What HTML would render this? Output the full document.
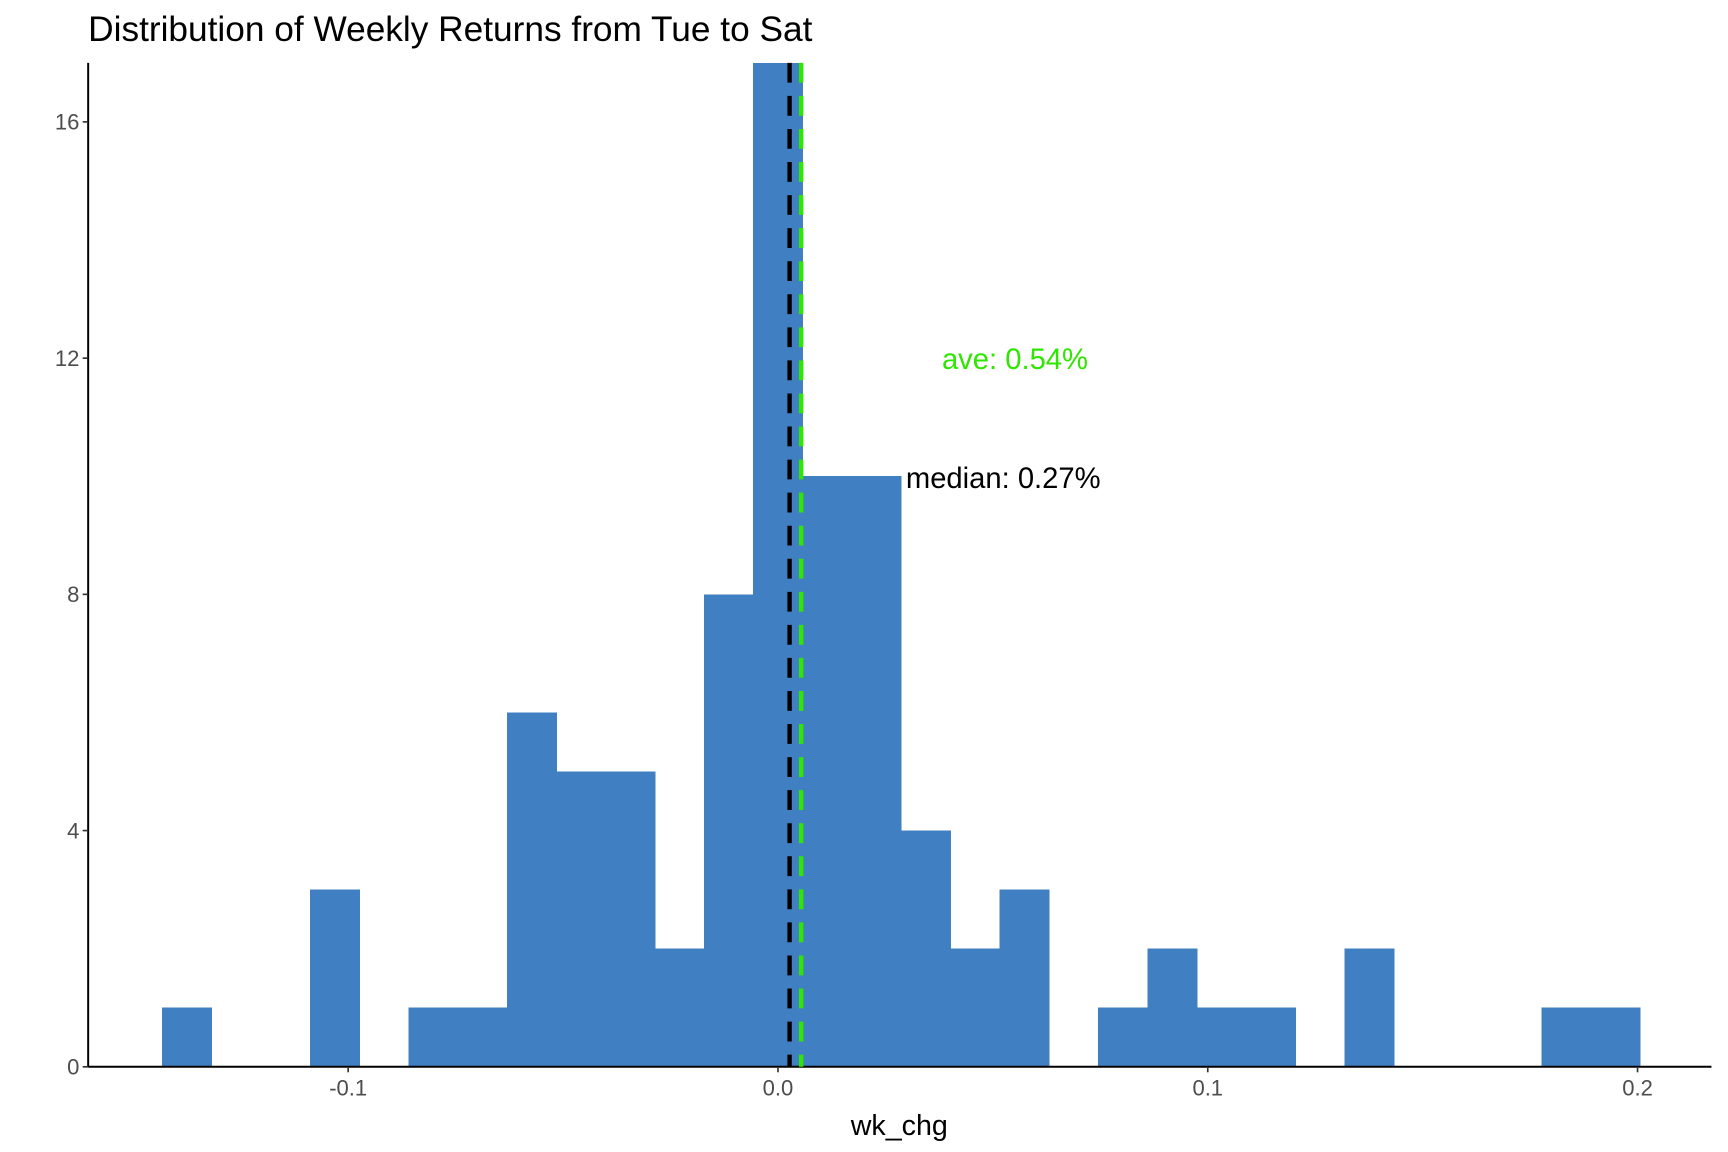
<!DOCTYPE html>
<html><head><meta charset="utf-8"><style>html,body{margin:0;padding:0;background:#fff}svg{display:block}text{font-family:"Liberation Sans",Arial,sans-serif}</style></head>
<body>
<svg id="chart" width="1728" height="1152" viewBox="0 0 1568 1045.3" xmlns="http://www.w3.org/2000/svg">
<rect width="1568" height="1045.3" fill="#fff"/>
<text x="80" y="37" font-size="32" fill="#000">Distribution of Weekly Returns from Tue to Sat</text>
<g id="bars" shape-rendering="crispEdges"></g>
<g id="axes"></g>
<text x="816" y="1030" font-size="26" text-anchor="middle" fill="#000">wk_chg</text>
</svg>
<script>
const binStart = -0.1433;
const binWidth = 0.011462;
const counts = [1,0,0,3,0,1,1,6,5,5,2,8,17,10,10,4,2,3,0,1,2,1,1,0,2,0,0,0,1,1];
const xTicks = [-0.1, 0.0, 0.1, 0.2];
const xTickLabels = ["-0.1","0.0","0.1","0.2"];
const yTicks = [0, 4, 8, 12, 16];
const medianVal = 0.0027;
const aveVal = 0.0054;
const medianLabel = "median: 0.27%";
const aveLabel = "ave: 0.54%";

const X0 = 80, X1 = 1553, Y0 = 968, Y1 = 57;
const xMin = -0.1605, xMax = 0.2172, yMin = 0, yMax = 17.0;
const xs = v => X0 + (v - xMin) / (xMax - xMin) * (X1 - X0);
const ys = v => Y0 - (v - yMin) / (yMax - yMin) * (Y0 - Y1);
const NS = "http://www.w3.org/2000/svg";
function mk(tag, attrs, parent){const e=document.createElementNS(NS,tag);for(const k in attrs)e.setAttribute(k,attrs[k]);parent.appendChild(e);return e;}
const svg = document.getElementById('chart');
const bars = document.getElementById('bars');
const axes = document.getElementById('axes');

counts.forEach((c,i)=>{
  if(c<=0) return;
  const x=xs(binStart+i*binWidth), x2=xs(binStart+(i+1)*binWidth);
  const top=Math.max(ys(c),Y1);
  const r=mk('rect',{x:x,y:top,width:x2-x+0.6,height:Y0-top,fill:'#4080c2'},bars);
  
  
});

const ml=mk('line',{x1:xs(medianVal),x2:xs(medianVal),y1:Y1,y2:Y0,stroke:'#000','stroke-width':4,'stroke-dasharray':'18 12'},svg);


const al=mk('line',{x1:xs(aveVal),x2:xs(aveVal),y1:Y1,y2:Y0,stroke:'#2ee600','stroke-width':4,'stroke-dasharray':'18 12'},svg);



const at=mk('text',{x:921,y:335,'font-size':26.5,'text-anchor':'middle',fill:'#2ee600'},svg);
at.textContent=aveLabel;


const mt=mk('text',{x:822,y:443,'font-size':26.5,fill:'#000'},svg);
mt.textContent=medianLabel;



const xl=mk('line',{x1:X0,x2:X1,y1:Y0,y2:Y0,stroke:'#000','stroke-width':1.8},axes);


const yl=mk('line',{x1:X0,x2:X0,y1:Y1,y2:Y0,stroke:'#000','stroke-width':1.8},axes);



xTicks.forEach((v,i)=>{
  const x=xs(v);
  const t=mk('line',{x1:x,x2:x,y1:Y0,y2:Y0+5,stroke:'#333','stroke-width':1.5},axes);
  
  
  const l=mk('text',{x:x,y:Y0+26,'font-size':20,'text-anchor':'middle',fill:'#4d4d4d'},axes);
  l.textContent=xTickLabels[i];
  
  
});
yTicks.forEach(v=>{
  const y=ys(v);
  const t=mk('line',{x1:X0-5,x2:X0,y1:y,y2:y,stroke:'#333','stroke-width':1.5},axes);
  
  
  const l=mk('text',{x:X0-8,y:y+7,'font-size':20,'text-anchor':'end',fill:'#4d4d4d'},axes);
  l.textContent=String(v);
  
  
});
</script>
</body></html>
